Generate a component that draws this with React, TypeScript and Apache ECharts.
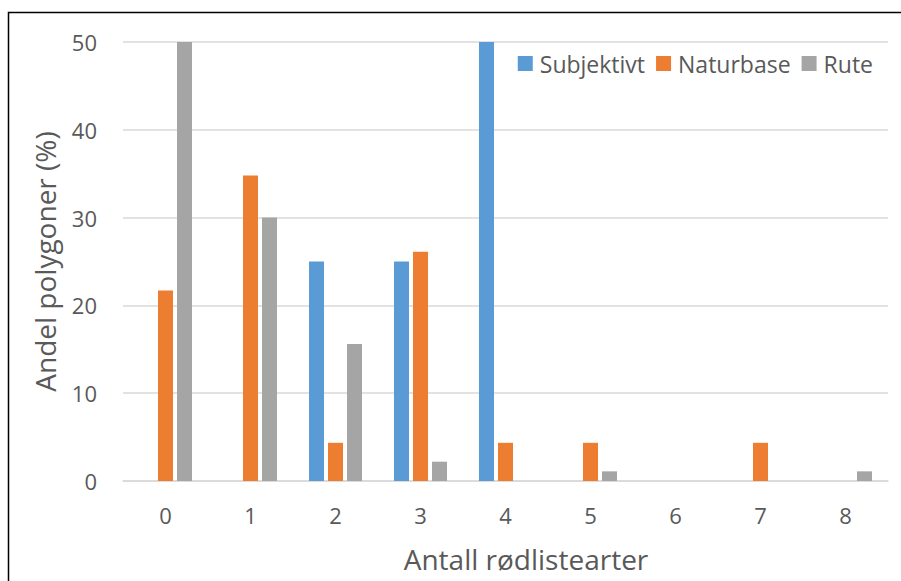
import React, { useEffect, useRef } from "react";
import * as echarts from "echarts";

const categories = ["0", "1", "2", "3", "4", "5", "6", "7", "8"];
const subjektivt = [0, 0, 25, 25, 50, 0, 0, 0, 0];
const naturbase = [21.7, 34.8, 4.35, 26.1, 4.35, 4.35, 0, 4.35, 0];
const rute = [50, 30, 15.6, 2.2, 0, 1.1, 0, 0, 1.1];
const seriesNames = ["Subjektivt", "Naturbase", "Rute"];
const colors = ["#5b9bd5", "#ed7d31", "#a5a5a5"];

const FONT = "'Open Sans', sans-serif";
const TEXT = "#595959";

export default function App() {
  const ref = useRef<HTMLDivElement>(null);
  useEffect(() => {
    if (!ref.current) return;
    const chart = echarts.init(ref.current, undefined, { renderer: "svg" });
    const data = [subjektivt, naturbase, rute];
    chart.setOption({
      animation: false,
      textStyle: { fontFamily: FONT },
      grid: { left: 123, right: 13, top: 42, bottom: 100 },
      graphic: [
        {
          type: "rect",
          shape: { x: 8.5, y: 12.5, width: 1000, height: 1000 },
          style: { fill: "none", stroke: "#000", lineWidth: 1.5 },
          silent: true,
        },
      ],
      legend: {
        data: seriesNames,
        right: 23,
        top: 47,
        icon: "rect",
        itemWidth: 15,
        itemHeight: 15,
        itemGap: 11,
        textStyle: { color: TEXT, fontSize: 23, fontFamily: FONT, padding: [0, 0, 0, 2] },
      },
      xAxis: {
        type: "category",
        data: categories,
        axisLine: { lineStyle: { color: "#d9d9d9", width: 1.5 } },
        axisTick: { show: false },
        axisLabel: { color: TEXT, fontSize: 22, margin: 23, fontFamily: FONT },
        name: "Antall rødlistearter",
        nameLocation: "middle",
        nameGap: 64,
        nameTextStyle: { color: TEXT, fontSize: 28, fontFamily: FONT, padding: [0, 0, 0, 41] },
      },
      yAxis: {
        type: "value",
        min: 0,
        max: 50,
        interval: 10,
        axisLine: { show: false },
        axisTick: { show: false },
        splitLine: { lineStyle: { color: "#d9d9d9", width: 1.5 } },
        axisLabel: { color: TEXT, fontSize: 22, margin: 26, fontFamily: FONT },
        name: "Andel polygoner (%)",
        nameLocation: "middle",
        nameGap: 64,
        nameTextStyle: { color: TEXT, fontSize: 28, fontFamily: FONT },
      },
      series: seriesNames.map((name, i) => ({
        name,
        type: "bar",
        data: data[i],
        barWidth: 15,
        barGap: "26.7%",
        itemStyle: { color: colors[i] },
      })),
    });
    return () => chart.dispose();
  }, []);
  return (
    <div
      ref={ref}
      style={{ position: "fixed", left: 0, top: 0, width: 901, height: 581, background: "#fff" }}
    />
  );
}
